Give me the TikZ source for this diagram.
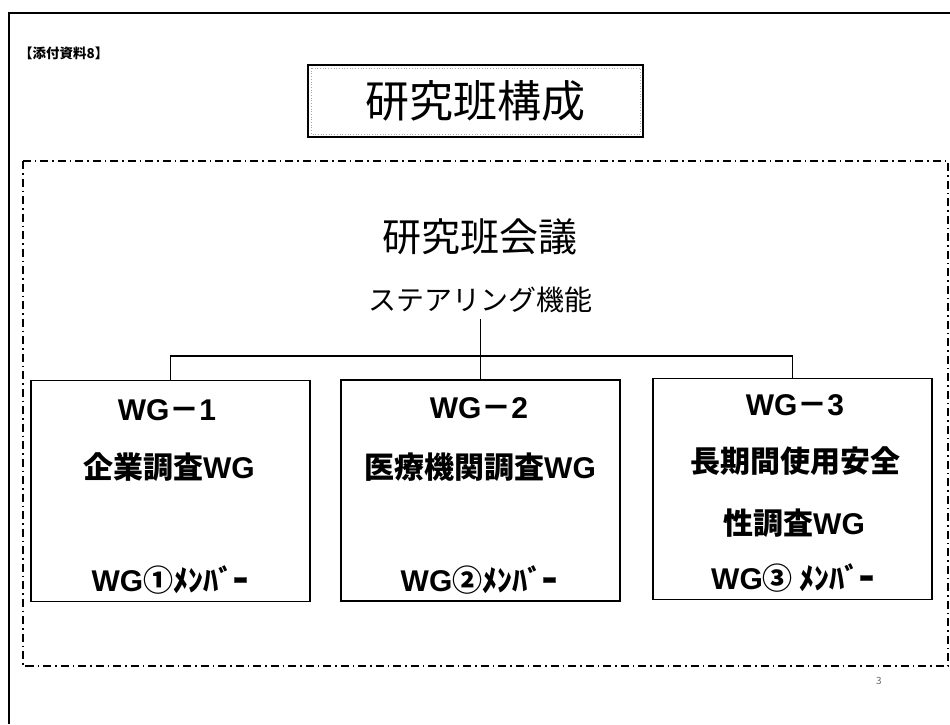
\documentclass[tikz,border=0pt]{standalone}
\usepackage{fontspec}
\setmainfont{Noto Sans CJK JP}
\newfontfamily\jp{Noto Sans CJK JP}
\newfontfamily\lat{Liberation Sans}
\newcommand{\wgl}{{\lat\bfseries WG}}
\begin{document}
\begin{tikzpicture}[x=1pt,y=-1pt,
  wgbox/.style={draw,line width=1.4pt,minimum width=279pt,minimum height=221pt,inner sep=0pt},
  boxtext/.style={font=\jp\bfseries\fontsize{30}{32}\selectfont,inner sep=0pt,anchor=center},
  conn/.style={line width=1.1pt},
  frameline/.style={line width=1.8pt},
  dashdot/.style={line width=1.6pt,dash pattern=on 8pt off 4pt on 1.5pt off 4pt}]
\useasboundingbox (0,0) rectangle (950,724);
% outer frame (only top and left are in view)
\draw[frameline] (950,13) -- (9,13) -- (9,724);
% dash-dot frame
\draw[dashdot] (23,161) rectangle (948,666);
% label
\node[font=\jp\bfseries\fontsize{13.5}{14}\selectfont,anchor=west,inner sep=0pt] (tag) at (19,53) {【添付資料8】};
% title
\node[draw,line width=2pt,minimum width=335pt,minimum height=72pt,inner sep=0pt,
      font=\jp\fontsize{44}{46}\selectfont] (title) at (475.5,101) {研究班構成};
\draw[gray!70,line width=0.7pt,dotted] ([shift={(4,4)}]title.north west) rectangle ([shift={(-4,-4)}]title.south east);
% meeting
\node[font=\jp\fontsize{39}{42}\selectfont,inner sep=0pt] (meet) at (480,237) {研究班会議};
\node[font=\jp\fontsize{28}{30}\selectfont,inner sep=6pt] (steer) at (480,300) {ステアリング機能};
% WG boxes
\node[wgbox] (wg1) at (170.5,491) {};
\node[wgbox] (wg2) at (480.5,490.5) {};
\node[wgbox] (wg3) at (792.5,489) {};
% connectors
\coordinate (j) at (478,356);
\draw[conn] (steer.south -| wg2.north) -- (wg2.north);
\draw[conn] (wg1.north) -- (wg1.north |- j) -- (wg3.north |- j) -- (wg3.north);
% box texts
\node[boxtext] (t11) at (167,410) {\wgl－{\lat\bfseries 1}};
\node[boxtext] (t12) at (169,467) {企業調査\wgl};
\node[boxtext] (t13) at (170,580) {\wgl①ﾒﾝﾊﾞｰ};
\node[boxtext] (t21) at (479,408) {\wgl－{\lat\bfseries 2}};
\node[boxtext] (t22) at (480,467) {医療機関調査\wgl};
\node[boxtext] (t23) at (479,580) {\wgl②ﾒﾝﾊﾞｰ};
\node[boxtext] (t31) at (795,405) {\wgl－{\lat\bfseries 3}};
\node[boxtext] (t32) at (795,461) {長期間使用安全};
\node[boxtext] (t33) at (794,523) {性調査\wgl};
\node[boxtext] (t34) at (793,578) {\wgl③ ﾒﾝﾊﾞｰ};
% page number
\node[font=\jp\fontsize{10}{12}\selectfont,text=black!60,inner sep=0pt] (pg) at (879,681) {3};
\end{tikzpicture}
\end{document}
